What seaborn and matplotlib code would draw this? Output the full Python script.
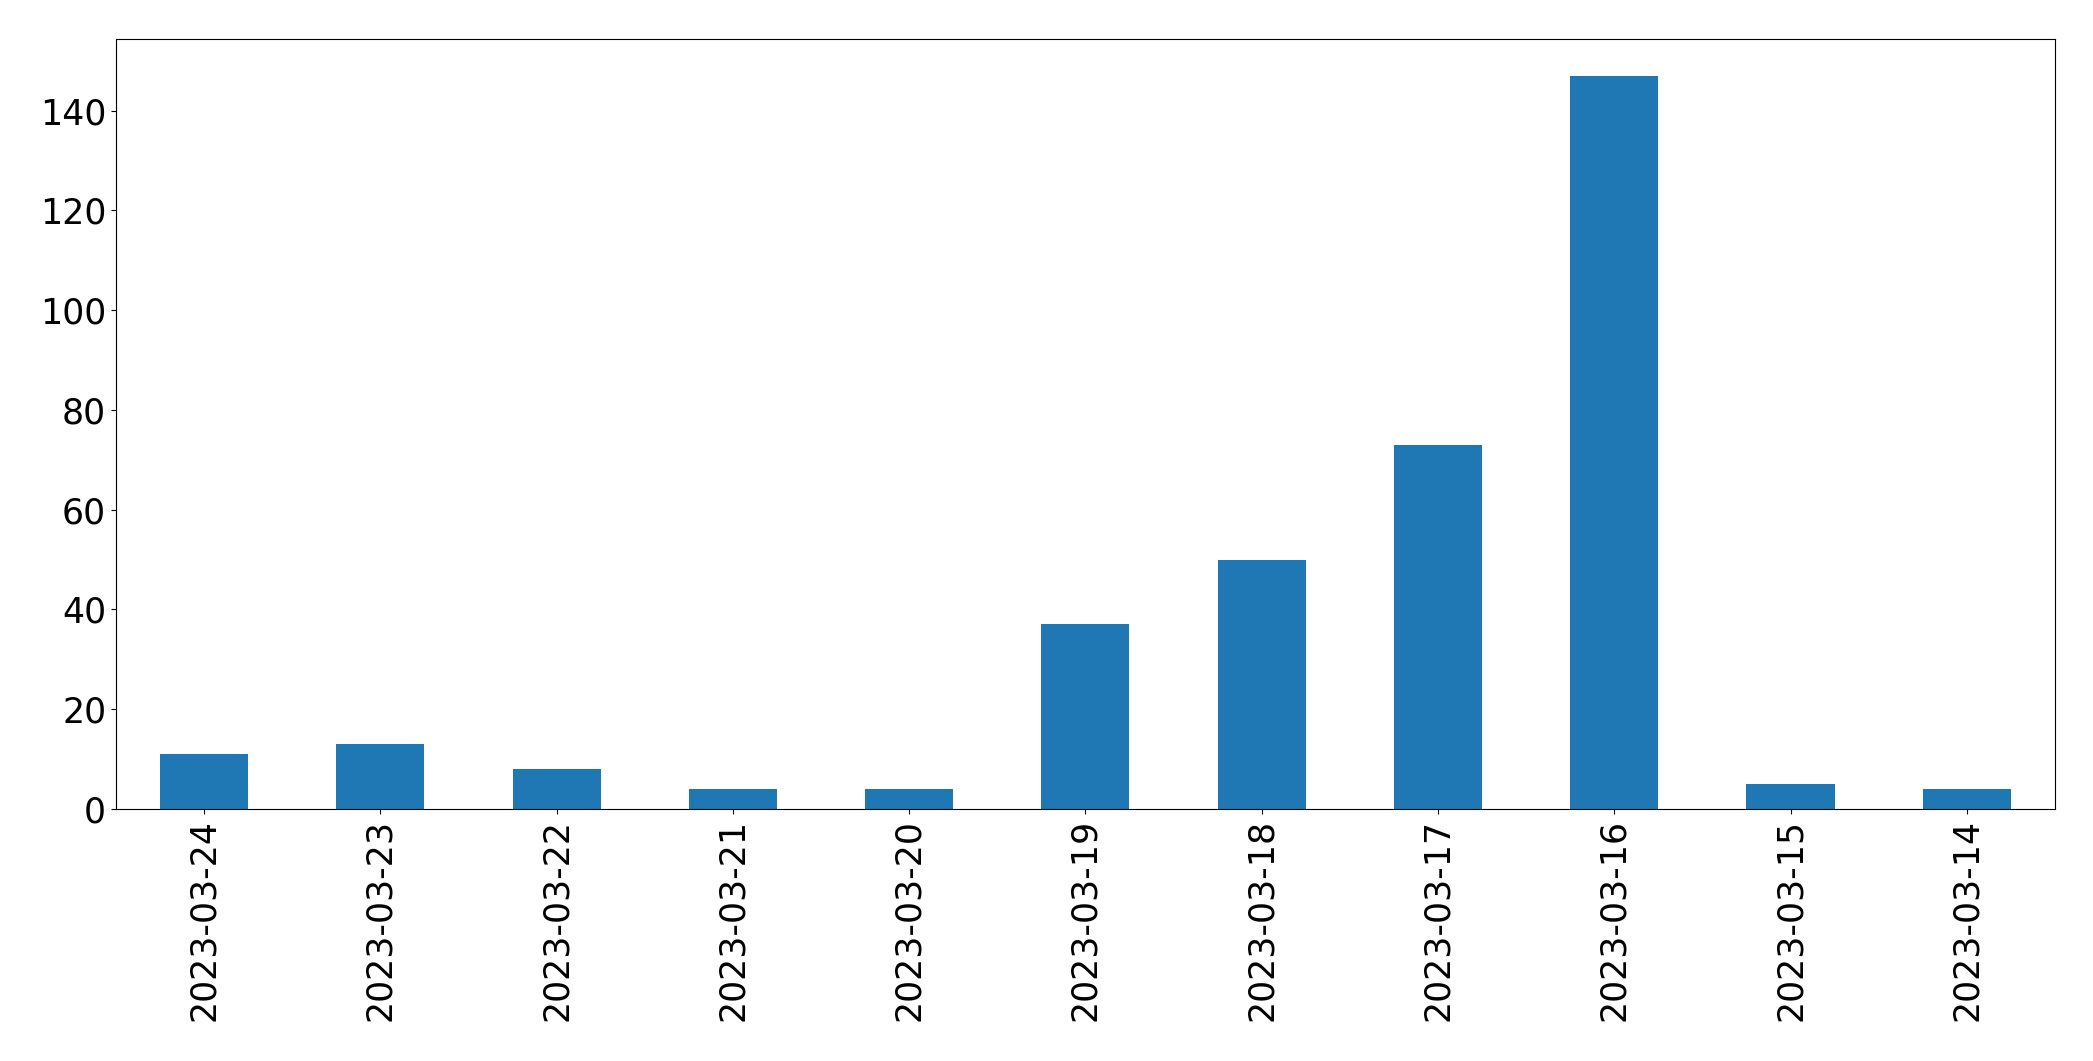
import pandas as pd
import matplotlib
matplotlib.use("Agg")
import matplotlib.pyplot as plt
import seaborn as sns

# Daily counts, newest date first (as in the original)
dates = ['2023-03-24', '2023-03-23', '2023-03-22', '2023-03-21', '2023-03-20',
         '2023-03-19', '2023-03-18', '2023-03-17', '2023-03-16', '2023-03-15',
         '2023-03-14']
counts = [11, 13, 8, 4, 4, 37, 50, 73, 147, 5, 4]

df = pd.DataFrame({'date': dates, 'count': counts})

fig, ax = plt.subplots(figsize=(20.93, 10.61), dpi=100)

sns.barplot(
    data=df,
    x='date',
    y='count',
    order=dates,
    color='#1f77b4',
    saturation=1,
    width=0.5,
    ax=ax
)

ax.set_xlim(-0.5, len(dates) - 0.5)
ax.set_ylim(0, max(counts) * 1.05)
ax.set_xlabel('')
ax.set_ylabel('')
ax.tick_params(axis='x', labelsize=25, rotation=90)
ax.tick_params(axis='y', labelsize=25)

plt.subplots_adjust(left=0.0554, right=0.9818, top=0.9632, bottom=0.2375)

plt.savefig("out.png", dpi=100)
